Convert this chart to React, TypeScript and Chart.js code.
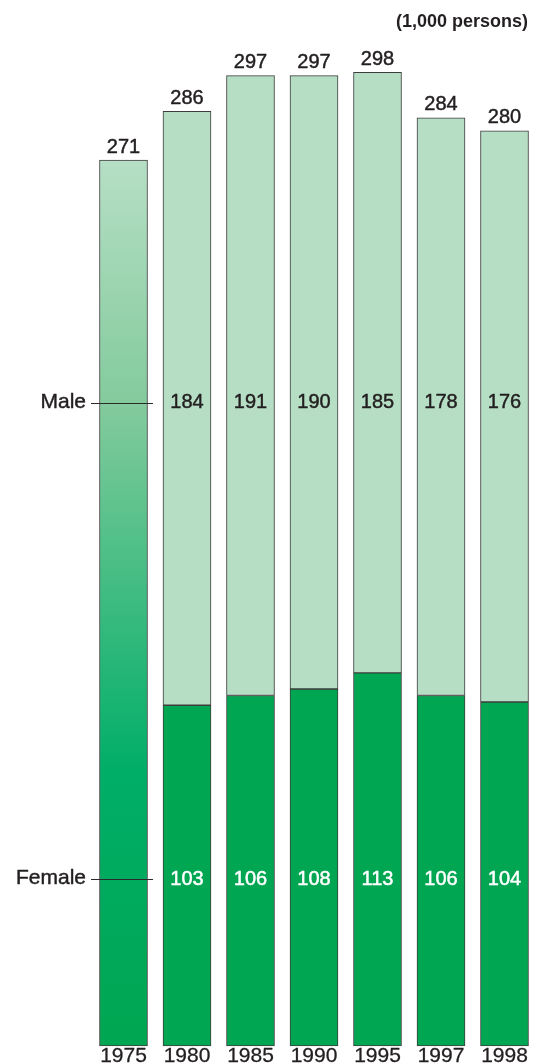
import React, { useEffect, useRef } from "react";
import { Chart, registerables } from "chart.js";

Chart.register(...registerables);

const years = ["1975", "1980", "1985", "1990", "1995", "1997", "1998"];
const totals = [271, 286, 297, 297, 298, 284, 280];
const male: (number | null)[] = [null, 184, 191, 190, 185, 178, 176];
const female: (number | null)[] = [null, 103, 106, 108, 113, 106, 104];
const unitLabel = "(1,000 persons)";
const maleName = "Male";
const femaleName = "Female";

const Y_MIN = -2;
const Y_MAX = 308;

const FONT = '"Liberation Sans", Arial, Helvetica, sans-serif';
const TEXT = "#231f20";
const MALE_FILL = "#b5dec4";
const FEMALE_FILL = "#00a651";
const BORDER = "#3d3d3d";

function heavyText(c: CanvasRenderingContext2D, s: string, x: number, y: number, color: string, w = 0.45) {
  c.fillStyle = color;
  c.strokeStyle = color;
  c.lineWidth = w;
  c.fillText(s, x, y);
  c.strokeText(s, x, y);
}

export default function App() {
  const ref = useRef<HTMLCanvasElement | null>(null);

  useEffect(() => {
    const canvas = ref.current;
    if (!canvas) return;

    const gradientFill = (ctx: any) => {
      const chart = ctx.chart;
      const { chartArea, scales } = chart;
      if (!chartArea) return MALE_FILL;
      const y0 = scales.y.getPixelForValue(totals[0]);
      const y1 = scales.y.getPixelForValue(Y_MIN);
      const g = chart.ctx.createLinearGradient(0, y0, 0, y1);
      g.addColorStop(0, "#b6dfc5");
      g.addColorStop(0.28, "#82ca9c");
      g.addColorStop(0.69, "#00ae68");
      g.addColorStop(1, "#00a651");
      return g;
    };

    const labelPlugin = {
      id: "labels",
      afterDatasetsDraw(chart: any) {
        const c = chart.ctx as CanvasRenderingContext2D;
        const x = chart.scales.x;
        const y = chart.scales.y;
        c.save();
        c.textAlign = "center";
        c.textBaseline = "alphabetic";
        c.lineJoin = "round";
        c.font = `20px ${FONT}`;
        totals.forEach((t, i) => {
          heavyText(c, String(t), x.getPixelForValue(i), y.getPixelForValue(t) - 7.5, TEXT);
        });
        const maleY = 408;
        const femaleY = 885;
        male.forEach((m, i) => {
          if (m == null) return;
          heavyText(c, String(m), x.getPixelForValue(i), maleY, TEXT);
        });
        female.forEach((f, i) => {
          if (f == null) return;
          heavyText(c, String(f), x.getPixelForValue(i), femaleY, "#ffffff", 0.5);
        });
        c.font = `21px ${FONT}`;
        years.forEach((yr, i) => {
          heavyText(c, yr, x.getPixelForValue(i), 1062, TEXT, 0.3);
        });
        c.textAlign = "right";
        c.font = `21px ${FONT}`;
        heavyText(c, maleName, 86, 408, TEXT);
        heavyText(c, femaleName, 86, 884, TEXT);
        c.strokeStyle = "#2a2a2a";
        c.lineWidth = 1;
        c.beginPath();
        c.moveTo(91, 403.5);
        c.lineTo(153, 403.5);
        c.moveTo(91, 879.5);
        c.lineTo(153, 879.5);
        c.stroke();
        c.font = `bold 18px ${FONT}`;
        c.fillStyle = TEXT;
        c.fillText(unitLabel, 528, 27);
        c.restore();
      },
    };

    const chart = new Chart(canvas, {
      type: "bar",
      data: {
        labels: years,
        datasets: [
          {
            label: "Total",
            data: totals.map((t, i) => (i === 0 ? [Y_MIN, t] : null)) as any,
            backgroundColor: gradientFill as any,
            borderColor: BORDER,
            borderWidth: 1,
            borderSkipped: false,
            barThickness: 48,
            grouped: false,
            clip: false as any,
          },
          {
            label: maleName,
            data: male.map((m, i) =>
              m == null || female[i] == null ? null : [female[i] as number, totals[i]]
            ) as any,
            backgroundColor: MALE_FILL,
            borderColor: BORDER,
            borderWidth: 1,
            borderSkipped: false,
            barThickness: 48,
            grouped: false,
            clip: false as any,
          },
          {
            label: femaleName,
            data: female.map((f) => (f == null ? null : [Y_MIN, f])) as any,
            backgroundColor: FEMALE_FILL,
            borderColor: BORDER,
            borderWidth: 1,
            borderSkipped: false,
            barThickness: 48,
            grouped: false,
            clip: false as any,
          },
        ],
      },
      options: {
        responsive: false,
        animation: false,
        devicePixelRatio: 1,
        layout: { padding: { left: 123.5, right: 29.5, top: 40, bottom: 17 } },
        plugins: { legend: { display: false }, tooltip: { enabled: false } },
        scales: {
          x: { display: false, offset: false },
          y: { display: false, min: Y_MIN, max: Y_MAX },
        },
      },
      plugins: [labelPlugin],
    });
    return () => chart.destroy();
  }, []);

  return (
    <div style={{ position: "absolute", left: 0, top: 0, width: 534, height: 1063, background: "#fff" }}>
      <canvas ref={ref} width={534} height={1063} style={{ width: 534, height: 1063, display: "block" }} />
    </div>
  );
}
